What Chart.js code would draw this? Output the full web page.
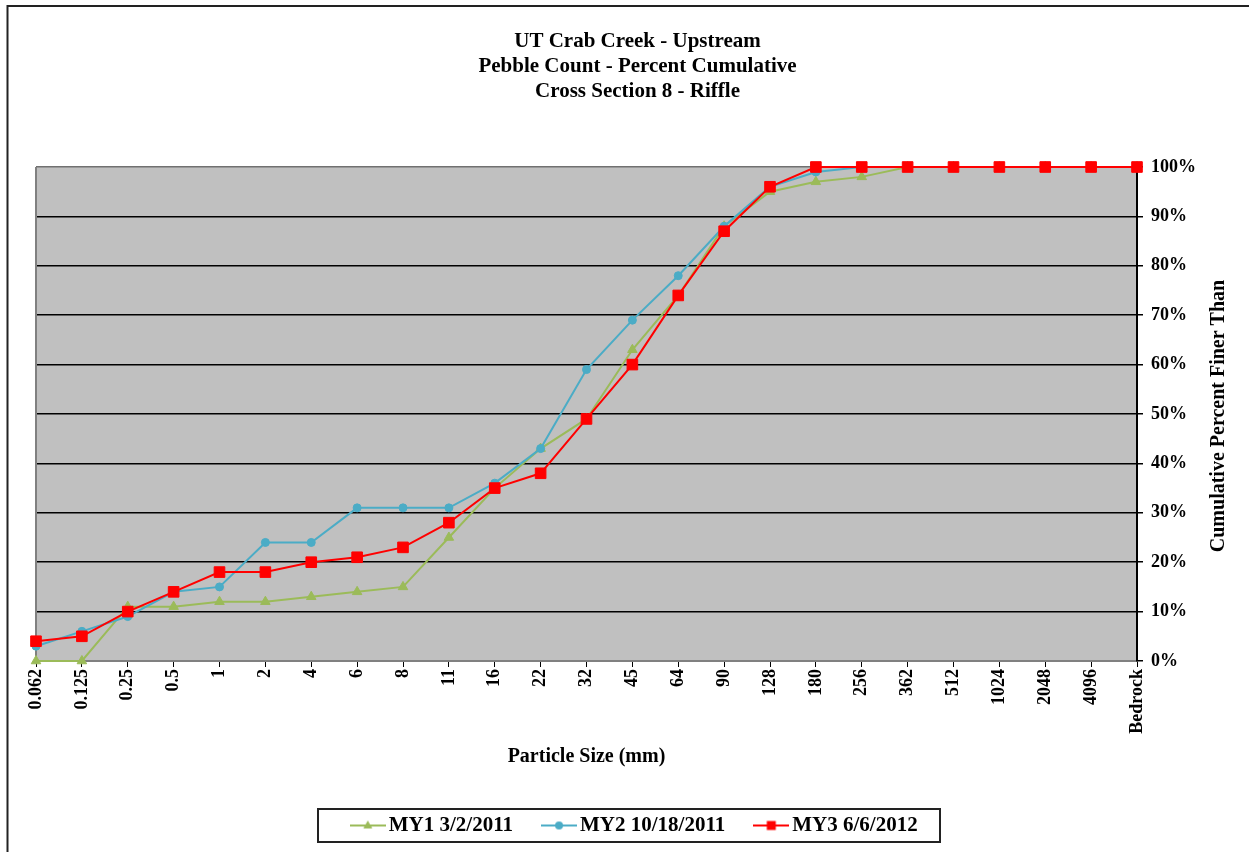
<!DOCTYPE html>
<html>
<head>
<meta charset="utf-8">
<script src="https://cdn.jsdelivr.net/npm/chart.js@4/dist/chart.umd.min.js"></script>
<style>
  html, body { margin: 0; padding: 0; background: #ffffff; }
  #wrap { width: 1249px; height: 852px; }
</style>
</head>
<body>
<div id="wrap"><canvas id="c" width="1249" height="852"></canvas></div>
<script>
// Particle size classes (mm) along the bottom axis
const sizes = ['0.062', '0.125', '0.25', '0.5', '1', '2', '4', '6', '8', '11', '16', '22', '32',
               '45', '64', '90', '128', '180', '256', '362', '512', '1024', '2048', '4096', 'Bedrock'];

// Cumulative percent finer than each size, per monitoring year
const my1 = [0, 0, 11, 11, 12, 12, 13, 14, 15, 25, 35, 43, 49, 63, 74, 88, 95, 97, 98, 100, 100, 100, 100, 100, 100];
const my2 = [3, 6, 9, 14, 15, 24, 24, 31, 31, 31, 36, 43, 59, 69, 78, 88, 96, 99, 100, 100, 100, 100, 100, 100, 100];
const my3 = [4, 5, 10, 14, 18, 18, 20, 21, 23, 28, 35, 38, 49, 60, 74, 87, 96, 100, 100, 100, 100, 100, 100, 100, 100];

const seriesNames = ['MY1 3/2/2011', 'MY2 10/18/2011', 'MY3 6/6/2012'];
const titleLines = ['UT Crab Creek - Upstream', 'Pebble Count - Percent Cumulative', 'Cross Section 8 - Riffle'];
const xTitle = 'Particle Size (mm)';
const yTitle = 'Cumulative Percent Finer Than';

const FONT = "'Liberation Serif', 'Times New Roman', serif";
const GREEN = '#9BBB59', BLUE = '#4BACC6', RED = '#FF0000';

// Small line-with-marker swatches for the legend
function swatch(color, shape) {
  const c = document.createElement('canvas');
  c.width = 36; c.height = 14;
  const g = c.getContext('2d');
  g.strokeStyle = color; g.fillStyle = color; g.lineWidth = 2;
  g.beginPath(); g.moveTo(0, 7); g.lineTo(36, 7); g.stroke();
  g.beginPath();
  if (shape === 'triangle') { g.moveTo(18, 2); g.lineTo(22.5, 10); g.lineTo(13.5, 10); g.closePath(); }
  else if (shape === 'circle') { g.arc(18, 7, 4, 0, Math.PI * 2); }
  else { g.rect(13.5, 2.5, 9, 9); }
  g.fill();
  return c;
}
const swatches = [swatch(GREEN, 'triangle'), swatch(BLUE, 'circle'), swatch(RED, 'rect')];

// Page frame, grey plot background, plot border, legend box and right-hand axis title
const decor = {
  id: 'decor',
  beforeDraw(chart) {
    const { ctx, chartArea: a } = chart;
    ctx.save();
    ctx.fillStyle = '#C0C0C0';
    ctx.fillRect(a.left, a.top, a.right - a.left, a.bottom - a.top);
    ctx.strokeStyle = '#222';
    ctx.lineWidth = 2;
    ctx.beginPath();
    ctx.moveTo(7.5, 852); ctx.lineTo(7.5, 6); ctx.lineTo(1249, 6);
    ctx.stroke();
    ctx.restore();
  },
  beforeDatasetsDraw(chart) {
    const { ctx, chartArea: a } = chart;
    ctx.save();
    ctx.strokeStyle = '#808080';
    ctx.lineWidth = 2;
    ctx.beginPath();
    ctx.moveTo(a.left, a.top); ctx.lineTo(a.left, a.bottom);
    ctx.stroke();
    ctx.restore();
  },
  afterDraw(chart) {
    const { ctx, chartArea: a } = chart;
    ctx.save();
    // legend frame
    const hb = chart.legend.legendHitBoxes;
    if (hb && hb.length) {
      const first = hb[0], last = hb[hb.length - 1];
      const cy = first.top + first.height / 2;
      const l = first.left - 39.5, r = last.left + last.width + 22;
      ctx.strokeStyle = '#222';
      ctx.lineWidth = 2;
      ctx.strokeRect(Math.round(l), Math.round(cy - 16.5), Math.round(r - l), 33);
    }
    // right axis title, reading upward
    ctx.translate(1219, (a.top + a.bottom) / 2 + 2);
    ctx.rotate(-Math.PI / 2);
    ctx.font = 'bold 20px ' + FONT;
    ctx.fillStyle = '#000';
    ctx.textAlign = 'center';
    ctx.textBaseline = 'middle';
    ctx.fillText(yTitle, 0, 0);
    ctx.restore();
  }
};

const colors = [GREEN, BLUE, RED];

new Chart(document.getElementById('c'), {
  type: 'line',
  data: {
    labels: sizes,
    datasets: [
      { label: seriesNames[0], data: my1, borderColor: GREEN, backgroundColor: GREEN, clip: false,
        pointStyle: 'triangle', pointRadius: 5.5, pointBorderWidth: 1, borderWidth: 2, order: 3 },
      { label: seriesNames[1], data: my2, borderColor: BLUE, backgroundColor: BLUE, clip: false,
        pointStyle: 'circle', pointRadius: 4, pointBorderWidth: 1, borderWidth: 2, order: 2 },
      { label: seriesNames[2], data: my3, borderColor: RED, backgroundColor: RED, clip: false,
        pointStyle: 'rect', pointRadius: 7.5, pointBorderWidth: 1, borderWidth: 2, order: 1 }
    ]
  },
  options: {
    responsive: false,
    animation: false,
    devicePixelRatio: 1,
    layout: { padding: { left: 36, right: 10, top: 0, bottom: 6 } },
    elements: { line: { tension: 0 } },
    plugins: {
      tooltip: { enabled: false },
      title: {
        display: true,
        text: titleLines,
        color: '#000',
        font: { family: FONT, size: 21, weight: 'bold', lineHeight: '25px' },
        padding: { top: 29.5, bottom: 62.5 }
      },
      legend: {
        display: true,
        position: 'bottom',
        labels: {
          usePointStyle: true,
          pointStyleWidth: 21,
          boxHeight: 12,
          padding: 35.5,
          color: '#000',
          font: { family: FONT, size: 21, weight: 'bold' },
          generateLabels(chart) {
            return chart.data.datasets.map((ds, i) => ({
              text: ds.label,
              fillStyle: colors[i],
              strokeStyle: colors[i],
              lineWidth: 0,
              pointStyle: swatches[i],
              hidden: false,
              datasetIndex: i,
              fontColor: '#000'
            }));
          }
        }
      }
    },
    scales: {
      x: {
        type: 'category',
        offset: false,
        afterFit(scale) { scale.height = 118.5; },
        grid: { drawOnChartArea: false, drawTicks: true, tickLength: 6, tickColor: '#000' },
        border: { color: '#808080', width: 2 },
        ticks: {
          autoSkip: false, minRotation: 90, maxRotation: 90, padding: 2, color: '#000',
          font: { family: FONT, size: 18, weight: 'bold' }
        },
        title: {
          display: true, text: xTitle, color: '#000',
          font: { family: FONT, size: 20, weight: 'bold' },
          padding: { top: 0, bottom: 11 }
        }
      },
      y: {
        position: 'right',
        min: 0, max: 100,
        afterFit(scale) { scale.width = 102; },
        grid: {
          drawOnChartArea: true, drawTicks: true, tickLength: 6, tickColor: '#000',
          color: (c) => (c.tick && (c.tick.value === 0 || c.tick.value === 100)) ? '#707070' : '#000',
          lineWidth: 1.5
        },
        border: { color: '#000', width: 2 },
        ticks: {
          stepSize: 10, padding: 8, color: '#000',
          font: { family: FONT, size: 18, weight: 'bold' },
          callback: (v) => v + '%'
        }
      }
    }
  },
  plugins: [decor]
});
</script>
</body>
</html>
